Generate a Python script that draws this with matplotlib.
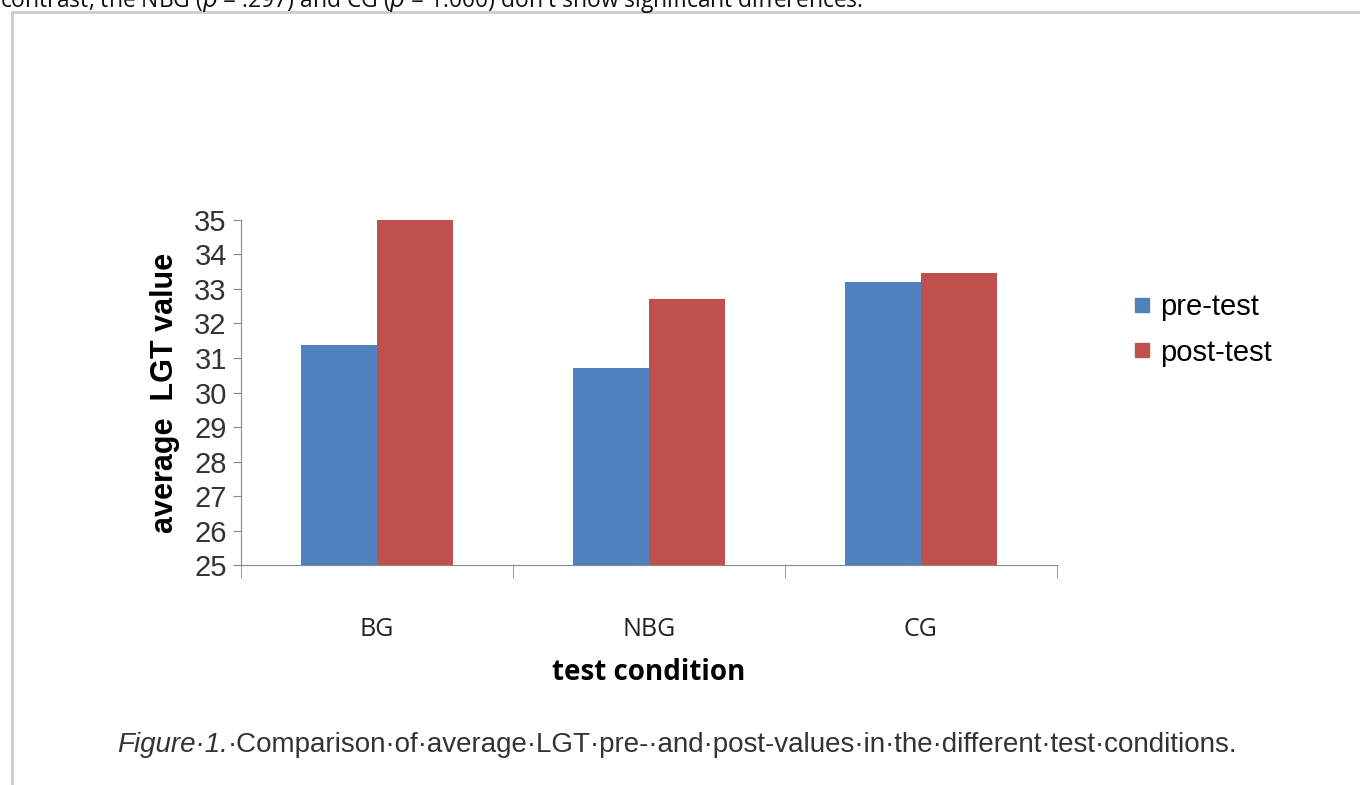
import matplotlib
matplotlib.use("Agg")
from matplotlib import pyplot as plt
from matplotlib.lines import Line2D

conditions = ["BG", "NBG", "CG"]
pre_test = [31.38, 30.72, 33.21]
post_test = [35.0, 32.72, 33.45]
series_names = ["pre-test", "post-test"]
y_ticks = list(range(25, 36))

blue = "#4F81BD"
red = "#C0504D"

fig = plt.figure(figsize=(13.6, 7.85), dpi=100)
ax = fig.add_axes([0.177, 0.280, 0.600, 0.440])

x = list(range(len(conditions)))
w = 0.28
ax.bar([i - w / 2 for i in x], pre_test, width=w, color=blue, label=series_names[0])
ax.bar([i + w / 2 for i in x], post_test, width=w, color=red, label=series_names[1])

ax.set_ylim(25, 35)
ax.set_xlim(-0.5, len(conditions) - 0.5)
ax.set_yticks(y_ticks)
ax.set_yticklabels([str(v) for v in y_ticks], fontsize=21, family="Liberation Sans", color="#333333")
ax.tick_params(axis="y", length=6, color="#888888", pad=4)

# category labels at centres, tick marks at the boundaries
ax.set_xticks(x)
ax.set_xticklabels(conditions, fontsize=18, family="Open Sans", color="#222222")
ax.tick_params(axis="x", which="major", length=0, pad=37)
ax.set_xticks([i - 0.5 for i in range(len(conditions) + 1)], minor=True)
ax.tick_params(axis="x", which="minor", length=9, color="#888888", direction="out")

for s in ["top", "right"]:
    ax.spines[s].set_visible(False)
for s in ["left", "bottom"]:
    ax.spines[s].set_color("#888888")

ax.set_ylabel("average  LGT value", fontsize=22, fontweight="bold", family="Liberation Sans", labelpad=10)
ax.set_xlabel("test condition", fontsize=20, fontweight="bold", family="Open Sans", labelpad=12)

handles = [Line2D([], [], marker="s", ls="", color=blue, markersize=10),
           Line2D([], [], marker="s", ls="", color=red, markersize=10)]
fig.legend(handles, series_names, loc="upper left", bbox_to_anchor=(0.81, 0.66),
           frameon=False, prop={"family": "Liberation Sans", "size": 21},
           handletextpad=0.1, labelspacing=0.6, handlelength=1.0)

# page frame and cut off text from the surrounding document
fig.add_artist(Line2D([12 / 1360, 12 / 1360], [0, 1 - 12 / 785], color="#cccccc", lw=2))
fig.add_artist(Line2D([12 / 1360, 1], [1 - 12 / 785, 1 - 12 / 785], color="#cccccc", lw=2))
fig.text(0.0, 1 - 7 / 785,
         "contrast, the NBG ($\\it{p}$ = .297) and CG ($\\it{p}$ = 1.000) don't show significant differences.",
         fontsize=16.5, family="Open Sans", va="baseline", ha="left", color="#111111")

# caption: italic lead then regular text
fig.canvas.draw()
r = fig.canvas.get_renderer()
cap_y = 1 - 752 / 785
t1 = fig.text(117 / 1360, cap_y, "Figure\u00b71.", fontsize=20, style="italic",
              family="Liberation Sans", color="#333333", va="baseline")
bb = t1.get_window_extent(r)
fig.text(bb.x1 / fig.bbox.width, cap_y,
         "\u00b7Comparison\u00b7of\u00b7average\u00b7LGT\u00b7pre-\u00b7and\u00b7post-values\u00b7in\u00b7the\u00b7different\u00b7test\u00b7conditions.",
         fontsize=20, family="Liberation Sans", color="#333333", va="baseline")

fig.savefig("out.png", dpi=100)
